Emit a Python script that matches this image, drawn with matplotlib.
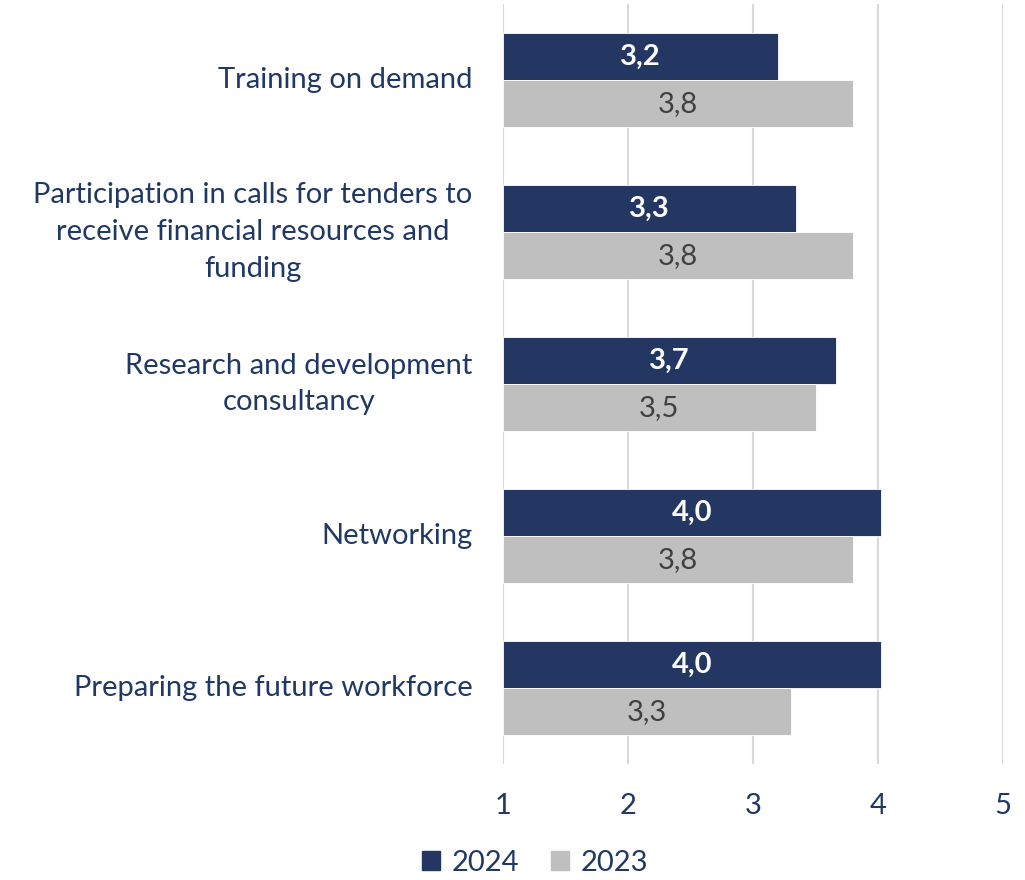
import numpy as np
import matplotlib
matplotlib.use("Agg")
from matplotlib import pyplot as plt
from matplotlib.patches import Patch

categories = [
    "Training on demand",
    "Participation in calls for tenders to\nreceive financial resources and\nfunding",
    "Research and development\nconsultancy",
    "Networking",
    "Preparing the future workforce",
]
values_2024 = [3.20, 3.34, 3.66, 4.02, 4.02]
values_2023 = [3.80, 3.80, 3.50, 3.80, 3.30]
labels_2024 = ["3,2", "3,3", "3,7", "4,0", "4,0"]
labels_2023 = ["3,8", "3,8", "3,5", "3,8", "3,3"]
series_names = ["2024", "2023"]

navy = "#243762"
grey = "#BFBFBF"
text_col = "#203864"

plt.rcParams["font.family"] = ["Lato", "DejaVu Sans"]

fig = plt.figure(figsize=(10.25, 8.8), dpi=100)
ax = fig.add_axes([503 / 1025, 1 - 764 / 880, 500 / 1025, 760 / 880])

y = np.arange(len(categories))
h = 0.31
base = 1.0

ax.barh(y - h / 2, np.array(values_2024) - base, left=base, height=h,
        color=navy, edgecolor="white", linewidth=0.6, zorder=3)
ax.barh(y + h / 2, np.array(values_2023) - base, left=base, height=h,
        color=grey, edgecolor="white", linewidth=0.6, zorder=3)

for yi, v, lab in zip(y, values_2024, labels_2024):
    ax.text((base + v) / 2, yi - h / 2, lab, ha="center", va="center",
            color="white", fontsize=21, fontweight="bold", zorder=4)
for yi, v, lab in zip(y, values_2023, labels_2023):
    ax.text((base + v) / 2, yi + h / 2, lab, ha="center", va="center",
            color="#404040", fontsize=21, zorder=4)

ax.set_xlim(1, 5)
ax.set_ylim(len(categories) - 0.5, -0.5)
ax.set_xticks([1, 2, 3, 4, 5])
ax.xaxis.grid(True, color="#D9D9D9", linewidth=1.5, zorder=0)
ax.set_axisbelow(True)
for s in ax.spines.values():
    s.set_visible(False)
ax.tick_params(axis="both", length=0, colors=text_col, labelsize=21)
ax.tick_params(axis="x", pad=21)
ax.tick_params(axis="y", pad=22)
ax.set_yticks(y)
ax.set_yticklabels(categories, multialignment="center", linespacing=1.5, va="center")

handles = [Patch(color=navy), Patch(color=grey)]
fig.legend(handles, series_names, loc="center", bbox_to_anchor=(535 / 1025, 1 - 863 / 880),
           ncol=2, frameon=False, fontsize=21, labelcolor=text_col,
           handlelength=0.6, handleheight=0.6, handletextpad=0.4, columnspacing=1.1)

fig.savefig("out.png", dpi=100)
